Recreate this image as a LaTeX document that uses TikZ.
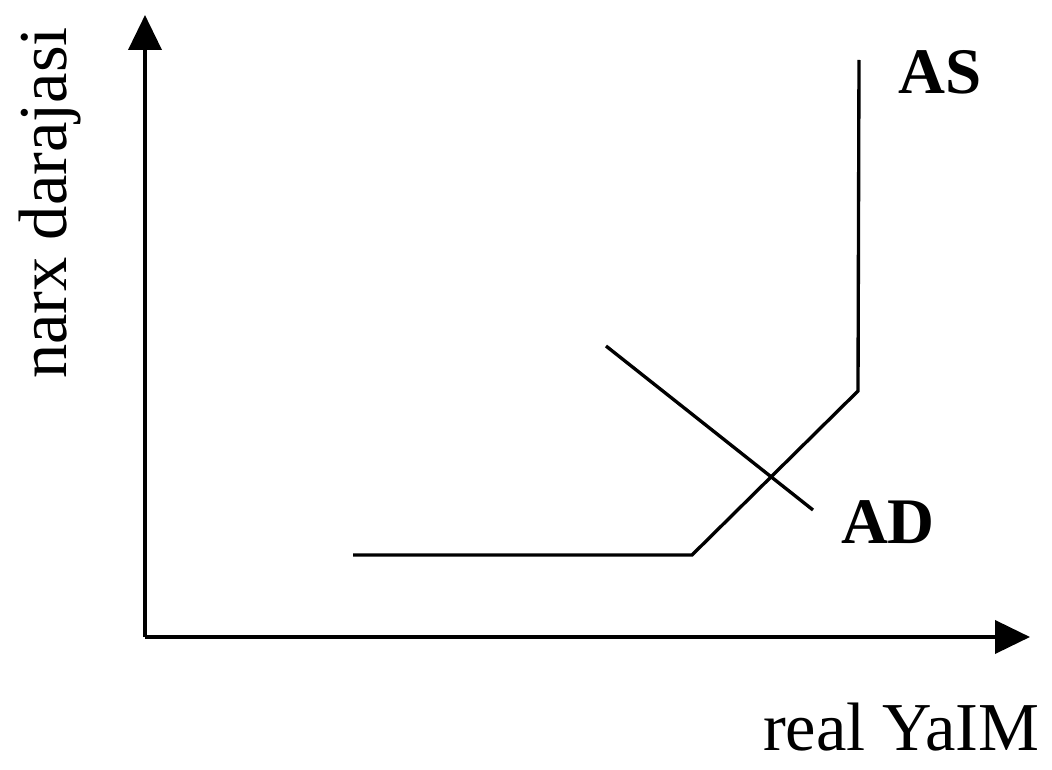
\documentclass[tikz,border=0pt]{standalone}
\usepackage{fontspec}
\setmainfont{Liberation Serif}
\usetikzlibrary{positioning,arrows.meta}
\tikzset{
  axisline/.style={-{Triangle[length=7mm, width=6.6mm]}, line width=2.2pt},
  curve/.style={line width=1.9pt, line join=miter},
  curvelabel/.style={font=\fontsize{37}{44}\selectfont\bfseries, inner sep=0pt},
  axislabel/.style={font=\fontsize{39}{46}\selectfont, inner sep=0pt}
}
\begin{document}
\begin{tikzpicture}[x=0.02cm, y=-0.02cm]
      \useasboundingbox (0,0) rectangle (1052,770);
      % axes
      \coordinate (origin) at (145,637);
      \coordinate (ytop) at (145,15);
      \coordinate (xend) at (1030,637);
      \draw[axisline] (origin) -- (ytop);
      \draw[axisline] (origin) -- (xend);
      \node[axislabel, rotate=90] (ylab) at (50,203) {narx darajasi};
      \node[axislabel, anchor=base east] (xlab) at (1040,750) {real YaIM};
      % AS curve
      \coordinate (as1) at (353,555);
      \coordinate (as2) at (692,555);
      \coordinate (as3) at (858,391);
      \coordinate (as4) at (859,60);
      \draw[curve] (as1) -- (as2) -- (as3) -- (as4);
      \node[curvelabel] (aslab) at (940,72) {AS};
      % AD curve
      \coordinate (ad1) at (606,346);
      \coordinate (ad2) at (813,510);
      \draw[curve] (ad1) -- (ad2);
      \node[curvelabel] (adlab) at (888,522) {AD};
\end{tikzpicture}
\end{document}
